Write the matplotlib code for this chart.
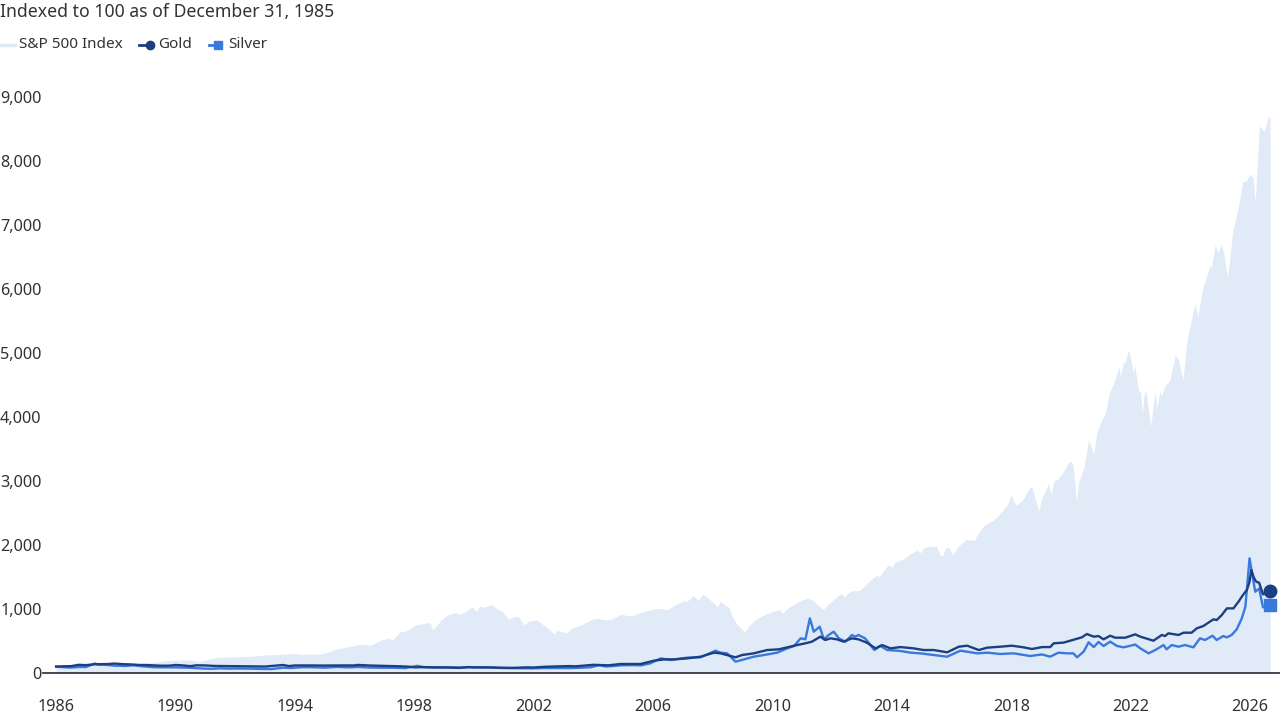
import matplotlib
matplotlib.use('Agg')
import matplotlib.pyplot as plt
from matplotlib.lines import Line2D
from matplotlib.ticker import FuncFormatter

plt.rcParams['font.family'] = ['Noto Sans', 'DejaVu Sans']

# dates as decimal years, values indexed to 100 at Dec 31, 1985
sp_dates = [1986.00, 1986.25, 1986.60, 1987.00, 1987.30, 1987.65, 1987.82, 1988.00, 1988.50, 1988.90,
            1989.30, 1989.60, 1989.90, 1990.40, 1990.80, 1991.10, 1991.40, 1991.90, 1992.50, 1993.00,
            1993.60, 1994.00, 1994.20, 1994.54, 1994.82, 1995.04, 1995.43, 1995.88, 1996.20, 1996.54,
            1996.88, 1997.16, 1997.27, 1997.53, 1997.66, 1997.83, 1998.05, 1998.45, 1998.54, 1998.61,
            1998.90, 1999.11, 1999.39, 1999.55, 1999.78, 1999.95, 2000.06, 2000.20, 2000.34, 2000.58,
            2000.78, 2000.95, 2001.17, 2001.34, 2001.50, 2001.68, 2001.84, 2002.12, 2002.23, 2002.40,
            2002.54, 2002.68, 2002.79, 2002.90, 2003.12, 2003.29, 2003.57, 2003.96, 2004.12, 2004.40,
            2004.62, 2004.91, 2005.24, 2005.58, 2005.97, 2006.25, 2006.47, 2006.75, 2007.03, 2007.14,
            2007.34, 2007.50, 2007.68, 2007.84, 2008.04, 2008.15, 2008.26, 2008.43, 2008.54, 2008.65,
            2008.80, 2008.95, 2009.06, 2009.20, 2009.42, 2009.71, 2009.99, 2010.27, 2010.33, 2010.50,
            2010.72, 2010.88, 2011.16, 2011.33, 2011.61, 2011.70, 2011.83, 2012.11, 2012.30, 2012.39,
            2012.61, 2012.92, 2013.28, 2013.50, 2013.57, 2013.80, 2013.89, 2014.00, 2014.10, 2014.45,
            2014.60, 2014.84, 2014.97, 2015.08, 2015.28, 2015.49, 2015.62, 2015.70, 2015.80, 2015.92,
            2016.05, 2016.18, 2016.46, 2016.68, 2016.76, 2016.85, 2017.07, 2017.40, 2017.68, 2017.85,
            2018.00, 2018.07, 2018.18, 2018.40, 2018.63, 2018.69, 2018.80, 2018.91, 2019.02, 2019.24,
            2019.33, 2019.43, 2019.57, 2019.75, 2019.92, 2020.00, 2020.07, 2020.18, 2020.26, 2020.43,
            2020.59, 2020.70, 2020.76, 2020.87, 2021.00, 2021.15, 2021.29, 2021.45, 2021.60, 2021.65,
            2021.76, 2021.80, 2021.93, 2022.04, 2022.08, 2022.13, 2022.27, 2022.33, 2022.38, 2022.47,
            2022.53, 2022.67, 2022.81, 2022.88, 2022.97, 2023.02, 2023.16, 2023.30, 2023.49, 2023.60,
            2023.75, 2023.88, 2024.15, 2024.25, 2024.41, 2024.66, 2024.70, 2024.83, 2024.92, 2025.02,
            2025.10, 2025.22, 2025.25, 2025.42, 2025.61, 2025.75, 2025.88, 2026.00, 2026.10, 2026.17,
            2026.31, 2026.47, 2026.61, 2026.67]
sp_vals = [100, 115, 112, 120, 150, 165, 125, 128, 142, 150,
           165, 190, 200, 205, 178, 214, 245, 250, 262, 281,
           292, 307, 292, 297, 292, 318, 375, 420, 448, 435,
           516, 542, 516, 646, 646, 682, 750, 786, 776, 672,
           828, 906, 943, 917, 984, 1036, 958, 1046, 1026, 1073,
           995, 958, 839, 880, 880, 750, 813, 828, 786, 724,
           672, 610, 672, 646, 630, 708, 750, 839, 854, 828,
           839, 917, 890, 943, 995, 1010, 990, 1070, 1130, 1120,
           1210, 1140, 1230, 1170, 1090, 1030, 1120, 1050, 1030, 880,
           765, 700, 630, 730, 830, 906, 960, 990, 930, 1010,
           1075, 1115, 1170, 1140, 1025, 990, 1060, 1170, 1245, 1190,
           1280, 1290, 1455, 1530, 1500, 1650, 1690, 1650, 1730, 1800,
           1860, 1920, 1880, 1960, 1980, 1980, 1840, 1830, 1960, 1950,
           1840, 1960, 2080, 2080, 2070, 2150, 2300, 2390, 2520, 2620,
           2780, 2690, 2620, 2720, 2910, 2900, 2720, 2530, 2720, 2960,
           2790, 3000, 3030, 3150, 3300, 3310, 3240, 2680, 2990, 3210,
           3640, 3500, 3420, 3770, 3930, 4060, 4390, 4550, 4790, 4630,
           4865, 4840, 5047, 4810, 4690, 4810, 4395, 4395, 4060, 4420,
           4330, 3850, 4400, 4140, 4400, 4330, 4500, 4560, 4970, 4890,
           4580, 5200, 5770, 5570, 6010, 6375, 6340, 6690, 6560, 6700,
           6600, 6250, 6200, 6920, 7290, 7680, 7700, 7800, 7740, 7360,
           8550, 8470, 8700, 8670]

gold_dates = [1986.00, 1986.25, 1986.50, 1986.75, 1987.00, 1987.30, 1987.55, 1987.75, 1987.95, 1988.25,
              1988.50, 1988.80, 1989.00, 1989.30, 1989.50, 1989.80, 1990.00, 1990.20, 1990.50, 1990.70,
              1991.00, 1991.30, 1991.70, 1992.00, 1992.50, 1992.80, 1993.00, 1993.60, 1993.80, 1994.00,
              1994.50, 1995.00, 1995.50, 1996.00, 1996.10, 1996.50, 1997.00, 1997.50, 1997.80, 1998.00,
              1998.30, 1998.70, 1999.00, 1999.50, 1999.80, 2000.00, 2000.50, 2000.90, 2001.30, 2001.75,
              2002.00, 2002.40, 2003.00, 2003.20, 2003.40, 2004.00, 2004.30, 2004.50, 2004.91, 2005.58,
              2006.03, 2006.37, 2006.70, 2007.14, 2007.59, 2008.04, 2008.26, 2008.59, 2008.76, 2008.98,
              2009.37, 2009.82, 2010.21, 2010.49, 2010.82, 2011.10, 2011.32, 2011.60, 2011.77, 2011.94,
              2012.16, 2012.38, 2012.66, 2012.88, 2013.16, 2013.45, 2013.67, 2013.95, 2014.28, 2014.73,
              2015.06, 2015.40, 2015.85, 2016.24, 2016.52, 2016.91, 2017.19, 2017.63, 2018.02, 2018.41,
              2018.69, 2019.03, 2019.30, 2019.42, 2019.75, 2020.09, 2020.36, 2020.53, 2020.76, 2020.92,
              2021.09, 2021.31, 2021.48, 2021.82, 2022.15, 2022.32, 2022.76, 2023.04, 2023.15, 2023.26,
              2023.60, 2023.77, 2024.04, 2024.21, 2024.43, 2024.60, 2024.77, 2024.88, 2025.05, 2025.22,
              2025.44, 2025.61, 2025.76, 2025.89, 2025.98, 2026.04, 2026.12, 2026.20, 2026.30, 2026.43,
              2026.67]
gold_vals = [100, 105, 107, 128, 123, 137, 138, 140, 148, 138,
             134, 125, 125, 118, 114, 115, 125, 120, 107, 120,
             118, 110, 108, 107, 104, 104, 101, 125, 108, 118,
             118, 116, 118, 118, 126, 117, 111, 105, 99, 88,
             92, 88, 88, 80, 93, 88, 88, 82, 80, 88,
             86, 98, 105, 108, 104, 128, 124, 120, 141, 141,
             193, 213, 213, 229, 255, 318, 307, 266, 245, 281,
             307, 359, 370, 401, 437, 464, 490, 568, 516, 542,
             526, 490, 542, 526, 474, 385, 437, 385, 405, 385,
             359, 359, 323, 411, 427, 359, 396, 411, 427, 401,
             375, 405, 405, 464, 475, 520, 557, 609, 568, 578,
             526, 583, 552, 552, 604, 568, 505, 594, 578, 620,
             594, 630, 630, 698, 734, 786, 839, 828, 906, 1010,
             1010, 1115, 1220, 1297, 1427, 1609, 1495, 1427, 1411, 1230,
             1286]

silver_dates = [1986.00, 1986.25, 1986.50, 1986.80, 1987.00, 1987.30, 1987.40, 1987.60, 1987.95, 1988.30,
                1988.60, 1988.90, 1989.30, 1989.60, 1990.00, 1990.20, 1990.50, 1990.90, 1991.20, 1991.50,
                1991.80, 1992.00, 1992.50, 1992.90, 1993.20, 1993.60, 1993.90, 1994.20, 1994.60, 1995.00,
                1995.40, 1995.80, 1996.10, 1996.50, 1996.90, 1997.30, 1997.70, 1998.10, 1998.30, 1998.60,
                1998.90, 1999.30, 1999.60, 1999.90, 2000.20, 2000.60, 2000.90, 2001.30, 2001.70, 2001.90,
                2002.30, 2002.60, 2002.90, 2003.20, 2003.60, 2003.90, 2004.20, 2004.40, 2004.70, 2004.91,
                2005.30, 2005.60, 2005.90, 2006.25, 2006.58, 2007.14, 2007.59, 2008.09, 2008.26, 2008.48,
                2008.76, 2009.04, 2009.37, 2009.71, 2010.16, 2010.49, 2010.72, 2010.94, 2011.10, 2011.25,
                2011.38, 2011.58, 2011.72, 2011.88, 2012.05, 2012.22, 2012.44, 2012.66, 2012.77, 2012.88,
                2013.10, 2013.41, 2013.61, 2013.84, 2014.28, 2014.62, 2014.95, 2015.40, 2015.85, 2016.29,
                2016.52, 2016.85, 2017.19, 2017.63, 2018.08, 2018.63, 2019.03, 2019.30, 2019.58, 2019.86,
                2020.08, 2020.20, 2020.42, 2020.59, 2020.76, 2020.92, 2021.09, 2021.31, 2021.54, 2021.76,
                2022.15, 2022.32, 2022.60, 2022.82, 2023.10, 2023.20, 2023.37, 2023.60, 2023.82, 2024.10,
                2024.32, 2024.49, 2024.74, 2024.88, 2025.10, 2025.22, 2025.38, 2025.55, 2025.72, 2025.84,
                2025.98, 2026.17, 2026.30, 2026.43, 2026.67]
silver_vals = [100, 90, 85, 95, 93, 150, 130, 130, 115, 110,
               120, 104, 90, 88, 88, 85, 82, 70, 66, 73,
               68, 70, 68, 63, 61, 83, 78, 90, 90, 83,
               95, 88, 95, 85, 82, 82, 77, 112, 92, 87,
               85, 88, 85, 90, 88, 85, 78, 75, 72, 72,
               77, 78, 78, 77, 82, 90, 122, 102, 110, 120,
               123, 120, 150, 229, 203, 240, 245, 349, 318, 307,
               177, 213, 255, 281, 318, 385, 422, 542, 526, 854,
               646, 724, 526, 594, 646, 542, 490, 594, 568, 594,
               542, 359, 422, 359, 345, 318, 307, 281, 255, 349,
               333, 307, 318, 297, 307, 266, 290, 255, 318, 307,
               307, 245, 333, 480, 405, 485, 422, 490, 422, 401,
               445, 385, 307, 359, 437, 370, 437, 411, 437, 401,
               542, 516, 583, 516, 578, 557, 594, 682, 854, 1036,
               1792, 1270, 1320, 1026, 1062]

y_ticks = [0, 1000, 2000, 3000, 4000, 5000, 6000, 7000, 8000, 9000]
x_ticks = [1986, 1990, 1994, 1998, 2002, 2006, 2010, 2014, 2018, 2022, 2026]

title = 'Indexed to 100 as of December 31, 1985'
labels = ['S&P 500 Index', 'Gold', 'Silver']

sp_col = '#e1eaf7'
gold_col = '#1b3f80'
silver_col = '#3a79dc'
text_col = '#333333'

W, H = 1280, 720
fig = plt.figure(figsize=(W / 100, H / 100), dpi=100)
ax = fig.add_axes([43 / W, 47 / H, (W - 43) / W, 595 / H])

ax.fill_between(sp_dates, sp_vals, 0, color=sp_col, lw=0)
ax.plot(silver_dates, silver_vals, color=silver_col, lw=1.7, solid_joinstyle='round')
ax.plot(gold_dates, gold_vals, color=gold_col, lw=1.7, solid_joinstyle='round')
ax.plot(gold_dates[-1], gold_vals[-1], 'o', color=gold_col, ms=9)
ax.plot(silver_dates[-1], silver_vals[-1], 's', color=silver_col, ms=8.5)

ax.set_xlim(1985.56, 2027.0)
ax.set_ylim(0, 9300)
ax.set_xticks(x_ticks)
ax.set_yticks(y_ticks)
ax.yaxis.set_major_formatter(FuncFormatter(lambda v, p: f'{int(v):,}'))
ax.tick_params(axis='both', length=0, labelsize=11.7, colors=text_col)
ax.tick_params(axis='x', pad=19)
ax.tick_params(axis='y', pad=1)
for s in ['top', 'right', 'left']:
    ax.spines[s].set_visible(False)
ax.spines['bottom'].set_color('#333a44')
ax.spines['bottom'].set_linewidth(1.3)

# title and legend in figure pixels
def px(x, y):
    return x / W, 1 - y / H

fig.text(*px(0, 12), title, fontsize=12.7, color=text_col, va='center', ha='left')

fig.add_artist(Line2D([0 / W, 15 / W], [px(0, 45)[1]] * 2, color=sp_col, lw=2.5))
fig.text(*px(19, 45), labels[0], fontsize=11, color=text_col, va='center')
fig.add_artist(Line2D([139 / W, 148 / W], [px(0, 45)[1]] * 2, color=gold_col, lw=2))
fig.add_artist(Line2D([150 / W], [px(0, 45)[1]], marker='o', color=gold_col, ms=6))
fig.text(*px(158, 45), labels[1], fontsize=11, color=text_col, va='center')
fig.add_artist(Line2D([209 / W, 217 / W], [px(0, 45)[1]] * 2, color=silver_col, lw=2))
fig.add_artist(Line2D([218 / W], [px(0, 45)[1]], marker='s', color=silver_col, ms=5.5))
fig.text(*px(228, 45), labels[2], fontsize=11, color=text_col, va='center')

fig.savefig('out.png', dpi=100)
